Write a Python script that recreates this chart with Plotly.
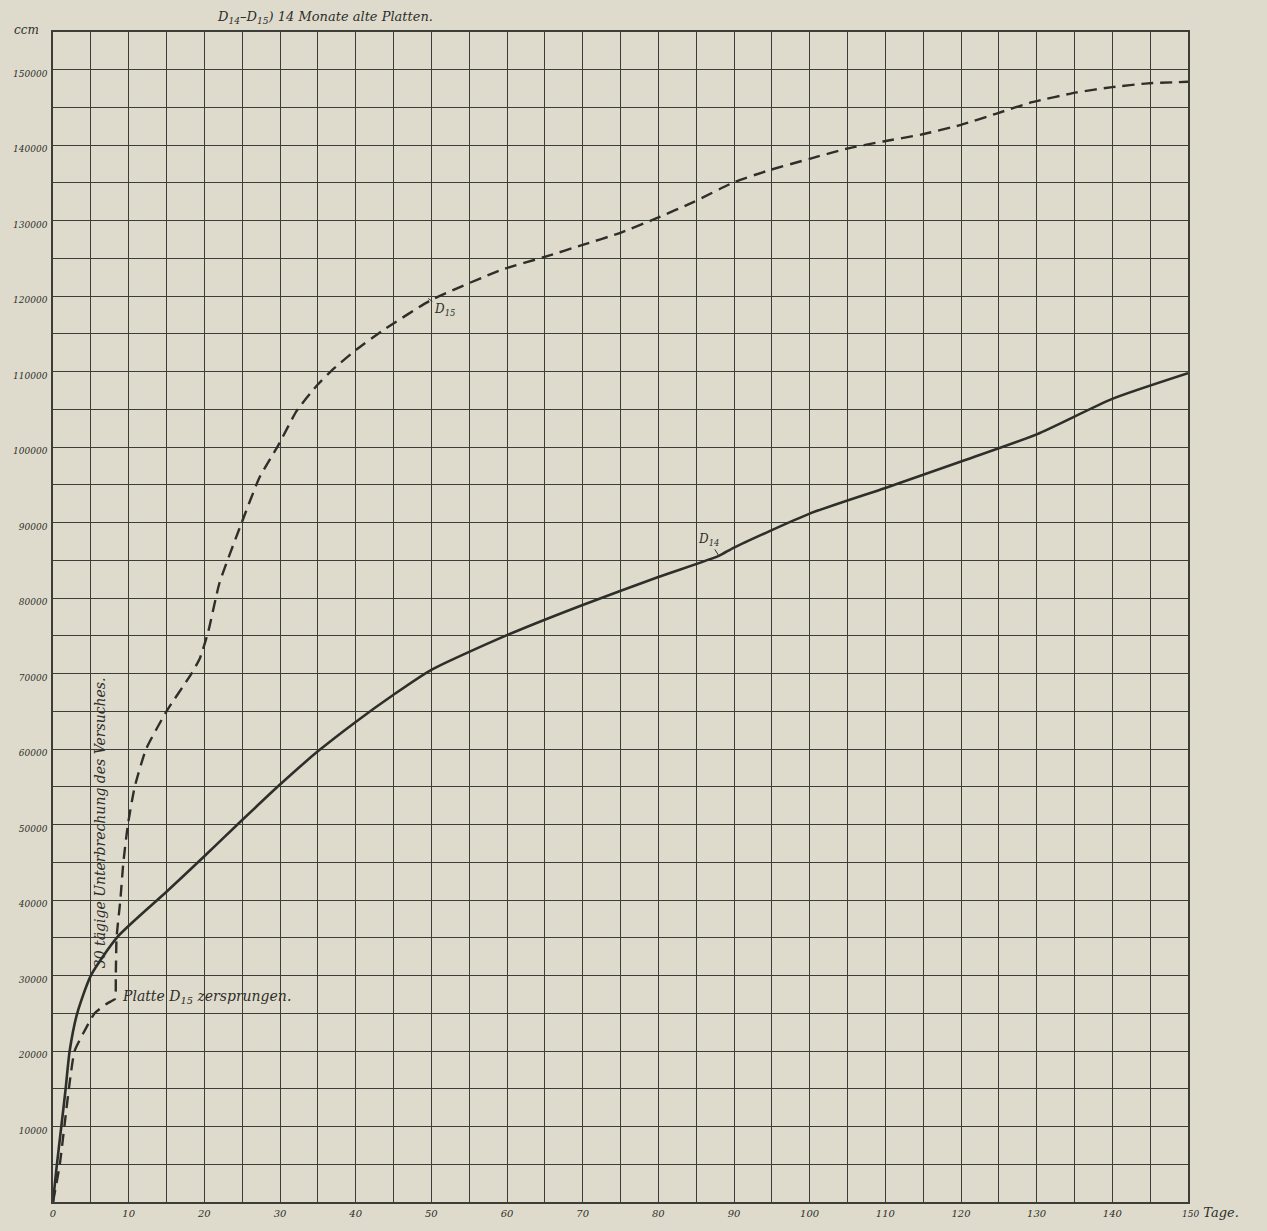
import plotly.graph_objects as go

# ---- data ----
d14_days = [0, 0.44, 1.1, 1.67, 2.2, 3.2, 5.0, 8.5, 15.0, 20.0, 25.0, 30.0, 35.0, 40.0, 45.0,
            50.0, 60.0, 70.0, 80.0, 88.0, 90.0, 100.0, 110.0, 120.0, 130.0, 140.0, 150.0]
d14_ccm = [0, 4300, 10000, 15000, 20000, 25000, 30000, 35100, 41100, 45800, 50600, 55300, 59700,
           63600, 67200, 70500, 75100, 79100, 82800, 85600, 86700, 91200, 94600, 98100, 101700,
           106400, 109800]

d15_days = [0, 0.9, 1.5, 2.1, 2.85, 4.4, 5.5, 7.0, 7.7, 8.2, 8.3, 8.4, 8.9, 9.3, 9.9, 10.8, 12.3,
            15.0, 18.3, 19.4, 20.5, 22.0, 24.9, 27.3, 29.8, 32.2, 34.9, 37.1, 40.2, 43.8, 50.0,
            59.3, 65.3, 70.0, 74.7, 79.7, 84.7, 90.0, 94.7, 100.0, 104.7, 109.7, 114.7, 120.0,
            124.7, 129.4, 135.3, 140.0, 144.7, 150.0]
d15_ccm = [0, 5000, 10000, 15000, 20000, 23100, 25000, 26200, 26600, 26900, 30000, 35000, 40000,
           45000, 50000, 55000, 60000, 65000, 70000, 72000, 75500, 82000, 89900, 96000, 100300,
           104800, 108200, 110400, 113000, 115600, 119500, 123500, 125300, 126800, 128300, 130300,
           132500, 135100, 136700, 138200, 139500, 140500, 141400, 142700, 144200, 145700, 147000,
           147700, 148200, 148400]

x_tick_vals = [0, 10, 20, 30, 40, 50, 60, 70, 80, 90, 100, 110, 120, 130, 140]
x_tick_labels = ["0", "10", "20", "30", "40", "50", "60", "70", "80", "90", "100", "110", "120", "130", "140"]
y_tick_vals = [10000, 20000, 30000, 40000, 50000, 60000, 70000, 80000, 90000, 100000,
               110000, 120000, 130000, 140000, 150000]
y_tick_labels = ["10000", "20000", "30000", "40000", "50000", "60000", "70000", "80000", "90000",
                 "100000", "110000", "120000", "130000", "140000", "150000"]

PAPER = "#dfdbcc"
INK = "#2e2e2a"
GRID = "#3d3d37"
FONT = "DejaVu Serif"

fig = go.Figure()

fig.add_trace(go.Scatter(x=d14_days, y=d14_ccm, mode="lines", name="D14",
                         line=dict(color=INK, width=2.6, shape="spline", smoothing=0.6),
                         hoverinfo="skip"))
fig.add_trace(go.Scatter(x=d15_days, y=d15_ccm, mode="lines", name="D15",
                         line=dict(color=INK, width=2.4, dash="12px,7px", shape="spline", smoothing=0.5),
                         hoverinfo="skip"))

fig.update_layout(
    width=1267, height=1231,
    margin=dict(l=53, r=79, t=32, b=16),
    paper_bgcolor=PAPER, plot_bgcolor=PAPER,
    showlegend=False,
    font=dict(family=FONT, color=INK),
)

fig.update_xaxes(
    range=[0, 150], tickvals=x_tick_vals, ticktext=x_tick_labels,
    tickfont=dict(size=10, family=FONT, color=INK, style="italic"),
    ticks="", ticklabelstandoff=1,
    showgrid=False, zeroline=False,
    showline=True, linecolor=GRID, linewidth=1.5, mirror=True,
    minor=dict(dtick=5, tick0=0, showgrid=True, gridcolor=GRID, gridwidth=1.1),
)
fig.update_yaxes(
    range=[0, 155000], tickvals=y_tick_vals, ticktext=y_tick_labels,
    tickfont=dict(size=9, family=FONT, color=INK, style="italic"),
    ticks="", ticklabelstandoff=2, ticklabelshift=4,
    showgrid=False, zeroline=False,
    showline=True, linecolor=GRID, linewidth=1.5, mirror=True,
    minor=dict(dtick=5000, tick0=0, showgrid=True, gridcolor=GRID, gridwidth=1.1),
)

anns = [
    dict(x=0.143, y=1.0, xref="paper", yref="paper", xanchor="left", yanchor="bottom",
         text="<i>D<sub>14</sub>–D<sub>15</sub>) 14 Monate alte Platten.</i>",
         font=dict(size=13, family=FONT, color=INK), showarrow=False, yshift=4),
    dict(x=0, y=1.0, xref="paper", yref="paper", xanchor="right", yanchor="middle",
         text="<i>ccm</i>", font=dict(size=12, family=FONT, color=INK), showarrow=False,
         xshift=-12, yshift=2),
    dict(x=150, y=0, xref="x", yref="y", xanchor="left", yanchor="top",
         text="<i><span style='font-size:9px'>150</span> Tage.</i>",
         font=dict(size=13, family=FONT, color=INK), showarrow=False, xshift=-8, yshift=-1),
    dict(x=6.2, y=50300, xref="x", yref="y", xanchor="center", yanchor="middle",
         text="<i>30 tägige Unterbrechung des Versuches.</i>", textangle=-90,
         font=dict(size=14, family=FONT, color=INK), showarrow=False),
    dict(x=8.85, y=27100, xref="x", yref="y", xanchor="left", yanchor="middle",
         text="<i>Platte D<sub>15</sub> zersprungen.</i>",
         font=dict(size=14, family=FONT, color=INK), showarrow=False),
    dict(x=49.6, y=119700, xref="x", yref="y", text="<i>D<sub>15</sub></i>",
         font=dict(size=12, family=FONT, color=INK), showarrow=True, arrowhead=0,
         arrowwidth=1, arrowcolor=INK, ax=16, ay=12),
    dict(x=88.0, y=85600, xref="x", yref="y", text="<i>D<sub>14</sub></i>",
         font=dict(size=12, family=FONT, color=INK), showarrow=True, arrowhead=0,
         arrowwidth=1, arrowcolor=INK, ax=-10, ay=-16),
]
fig.update_layout(annotations=anns)

fig.write_html("out.html", config={"displayModeBar": False},
               post_script="document.body.style.margin='0';")
